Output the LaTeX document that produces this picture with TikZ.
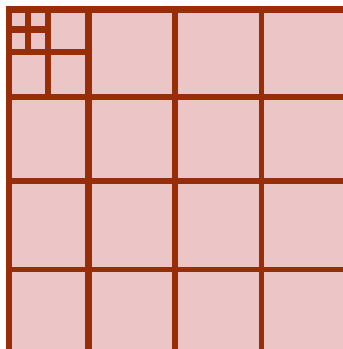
\documentclass[tikz,border=0pt]{standalone}
\usepackage{xcolor}
\usepackage{tikz}
\definecolor{gridrust}{RGB}{152, 46, 8}
\definecolor{cellpink}{RGB}{236, 198, 198}

\begin{document}
\begin{tikzpicture}[x=1pt, y=-1pt, line cap=rect]
    \useasboundingbox (0, 0) rectangle (343, 349);
    \fill[cellpink] (9, 9.5) rectangle (343, 349);

    % outer frame, left and top
    \draw[gridrust, line width=6.5pt] (9, 349) -- (9, 9.5) -- (343, 9.5);

    % main grid
    \foreach \x/\w in {88/7, 175/6.5, 261/5} {
        \draw[gridrust, line width=\w pt] (\x, 9.5) -- (\x, 349);
    }
    \foreach \y/\w in {97/6.5, 181/6, 269.5/5} {
        \draw[gridrust, line width=\w pt] (9, \y) -- (343, \y);
    }

    % refinement of the corner cell
    \draw[gridrust, line width=6.5pt] (48, 9.5) -- (48, 97);
    \draw[gridrust, line width=6.5pt] (9, 52) -- (88, 52);
    \draw[gridrust, line width=6.5pt] (28, 9.5) -- (28, 52);
    \draw[gridrust, line width=6.5pt] (9, 29.5) -- (48, 29.5);
\end{tikzpicture}
\end{document}
